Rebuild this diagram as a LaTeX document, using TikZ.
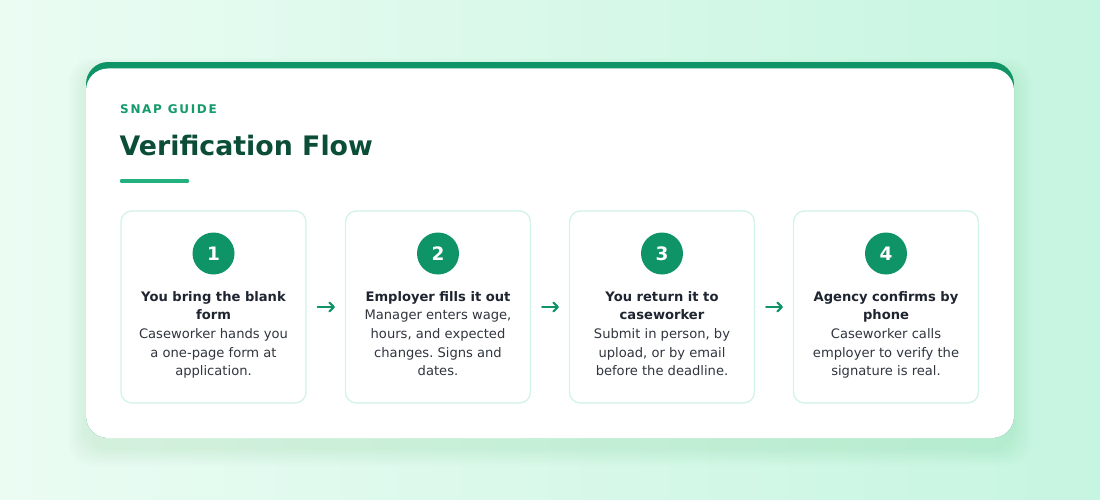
\documentclass[tikz,border=0pt]{standalone}
\usepackage{fontspec}
\setmainfont{DejaVu Sans}
\newfontfamily\spacedbold[LetterSpace=14]{DejaVu Sans}
\usetikzlibrary{arrows.meta}
\frenchspacing
\definecolor{bgA}{HTML}{EBFCF3}
\definecolor{bgB}{HTML}{C6F5E1}
\definecolor{brand}{HTML}{0E9466}
\definecolor{kicker}{HTML}{159A6B}
\definecolor{heading}{HTML}{0B4D37}
\definecolor{rule}{HTML}{22B07E}
\definecolor{cardline}{HTML}{D2F4E5}
\definecolor{titletxt}{HTML}{1E2530}
\definecolor{bodytxt}{HTML}{30353E}
\definecolor{shadowc}{HTML}{0E7A52}
\tikzset{
  stepcard/.style={draw=cardline, line width=1.3pt, fill=white, rounded corners=11pt,
    minimum width=185pt, minimum height=192pt, inner sep=0pt},
  badge/.style={circle, fill=brand, minimum size=42pt, inner sep=0pt, text=white,
    font=\bfseries\fontsize{18.5}{18.5}\selectfont},
  steptext/.style={align=center, anchor=north, inner sep=0pt, text=bodytxt,
    font=\fontsize{13.1}{18.7}\selectfont},
  flowarrow/.style={draw=brand, line width=2pt, line cap=round,
    -{Straight Barb[length=4.5pt,width=9pt,line width=2pt,round]}},
}
\newcommand{\ttl}[1]{{\bfseries\color{titletxt}#1}}
\begin{document}
\begin{tikzpicture}[x=1pt,y=-1pt]
\useasboundingbox (0,0) rectangle (1100,500);
% background
\shade[shading angle=120, left color=bgA, right color=bgB] (0,0) rectangle (1100,500);
% soft shadow
\foreach \i in {1,...,10}{
  \fill[shadowc, opacity=0.008, rounded corners=24pt]
    (86-1.8*\i,62+8-1.2*\i) rectangle (1014+1.8*\i,438+10+1.8*\i);
}
% card with green top border
\begin{scope}
  \clip[rounded corners=22pt] (86,62) rectangle (1014,438);
  \fill[brand] (86,62) rectangle (1014,438);
  \fill[white, rounded corners=22pt] (86,68.5) rectangle (1014,460);
\end{scope}
% header
\node[anchor=base west, inner sep=0pt, text=kicker, font=\spacedbold\bfseries\fontsize{12}{12}\selectfont] (kick) at (120,113.5) {SNAP GUIDE};
\node[anchor=base west, inner sep=0pt, text=heading, font=\bfseries\fontsize{26.8}{26.8}\selectfont] (head) at (119.5,156) {Verification Flow};
\draw[rule, line width=3.5pt, line cap=round] (121.5,181) -- (187.5,181);
% cards
\node[stepcard] (c1) at (213.5,307) {};
\node[stepcard] (c2) at (438,307) {};
\node[stepcard] (c3) at (662,307) {};
\node[stepcard] (c4) at (886,307) {};
\node[badge] (b1) at (213.5,253.5) {1};
\node[badge] (b2) at (438,253.5) {2};
\node[badge] (b3) at (662,253.5) {3};
\node[badge] (b4) at (886,253.5) {4};
\node[steptext] (t1) at (213.5,291) {\ttl{You bring the blank}\\\ttl{form}\\Caseworker hands you\\a one-page form at\\application.};
\node[steptext] (t2) at (438,291) {\ttl{Employer fills it out}\\Manager enters wage,\\hours, and expected\\changes. Signs and\\dates.};
\node[steptext] (t3) at (662,291) {\ttl{You return it to}\\\ttl{caseworker}\\Submit in person, by\\upload, or by email\\before the deadline.};
\node[steptext] (t4) at (886,291) {\ttl{Agency confirms by}\\\ttl{phone}\\Caseworker calls\\employer to verify the\\signature is real.};
% connectors
\draw[flowarrow] ([xshift=11pt]c1.east) -- ([xshift=-10pt]c2.west);
\draw[flowarrow] ([xshift=11pt]c2.east) -- ([xshift=-10pt]c3.west);
\draw[flowarrow] ([xshift=11pt]c3.east) -- ([xshift=-10pt]c4.west);
\end{tikzpicture}
\end{document}
